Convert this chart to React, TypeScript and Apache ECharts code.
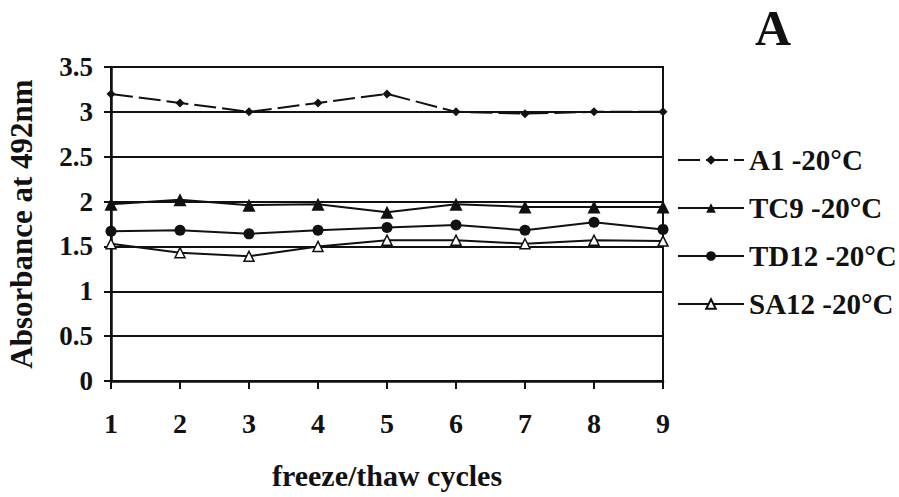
import React, { useEffect, useRef } from "react";
import * as echarts from "echarts";

const cycles = [1, 2, 3, 4, 5, 6, 7, 8, 9];
const a1 = [3.2, 3.1, 3.0, 3.1, 3.2, 3.0, 2.98, 3.0, 3.0];
const tc9 = [1.97, 2.02, 1.96, 1.97, 1.88, 1.97, 1.94, 1.94, 1.94];
const td12 = [1.67, 1.68, 1.64, 1.68, 1.71, 1.74, 1.68, 1.77, 1.69];
const sa12 = [1.53, 1.43, 1.39, 1.5, 1.57, 1.57, 1.53, 1.57, 1.56];
const seriesNames = ["A1 -20°C", "TC9 -20°C", "TD12 -20°C", "SA12 -20°C"];

const FONT = "'Liberation Serif', 'Times New Roman', serif";
const INK = "#111";

export default function App() {
  const ref = useRef<HTMLDivElement>(null);
  useEffect(() => {
    if (!ref.current) return;
    const chart = echarts.init(ref.current, undefined, { renderer: "svg" });
    const pairs = (vals: number[]) => cycles.map((c, i) => [c, vals[i]]);
    chart.setOption({
      animation: false,
      backgroundColor: "#fff",
      textStyle: { fontFamily: FONT },
      grid: {
        left: 111,
        right: 236,
        top: 67,
        bottom: 116,
        outerBoundsMode: "none",
        containLabel: false,
        show: true,
        borderColor: INK,
        borderWidth: 2,
        backgroundColor: "transparent",
      },
      graphic: [
        {
          type: "text",
          x: 773,
          y: 28,
          style: {
            text: "A",
            font: `bold 50px ${FONT}`,
            fill: INK,
            align: "center",
            verticalAlign: "middle",
            lineHeight: 44,
          },
        },
      ],
      legend: {
        orient: "vertical",
        left: 672,
        top: 140,
        itemWidth: 66,
        itemHeight: 12,
        itemGap: 18,
        data: seriesNames,
        textStyle: {
          fontFamily: FONT,
          fontWeight: "bold",
          fontSize: 29,
          color: INK,
          lineHeight: 30,
        },
      },
      xAxis: {
        type: "value",
        min: 1,
        max: 9,
        interval: 1,
        name: "freeze/thaw cycles",
        nameLocation: "middle",
        nameGap: 79,
        nameTextStyle: { fontFamily: FONT, fontWeight: "bold", fontSize: 30, color: INK },
        axisLine: { lineStyle: { color: INK, width: 2.5 } },
        axisTick: { show: true, length: 8, lineStyle: { color: INK, width: 2 } },
        axisLabel: { fontFamily: FONT, fontWeight: "bold", fontSize: 28, color: INK, margin: 28 },
        splitLine: { show: false },
      },
      yAxis: {
        type: "value",
        min: 0,
        max: 3.5,
        interval: 0.5,
        name: "Absorbance at 492nm",
        nameLocation: "middle",
        nameGap: 74,
        nameTextStyle: { fontFamily: FONT, fontWeight: "bold", fontSize: 31, color: INK },
        axisLine: { show: true, lineStyle: { color: INK, width: 2.5 } },
        axisTick: { show: true, length: 7, lineStyle: { color: INK, width: 2 } },
        axisLabel: { fontFamily: FONT, fontWeight: "bold", fontSize: 27, color: INK, margin: 18 },
        splitLine: { show: true, lineStyle: { color: INK, width: 2 } },
      },
      series: [
        {
          name: seriesNames[0],
          type: "line",
          data: pairs(a1),
          symbol: "diamond",
          symbolSize: 9,
          itemStyle: { color: INK },
          lineStyle: { color: INK, width: 2, type: [22, 6] },
        },
        {
          name: seriesNames[1],
          type: "line",
          data: pairs(tc9),
          symbol: "triangle",
          symbolSize: 13,
          itemStyle: { color: INK },
          lineStyle: { color: INK, width: 2 },
        },
        {
          name: seriesNames[2],
          type: "line",
          data: pairs(td12),
          symbol: "circle",
          symbolSize: 11,
          itemStyle: { color: INK },
          lineStyle: { color: INK, width: 2 },
        },
        {
          name: seriesNames[3],
          type: "line",
          data: pairs(sa12),
          symbol: "triangle",
          symbolSize: 10,
          itemStyle: { color: "#fff", borderColor: INK, borderWidth: 1.5 },
          lineStyle: { color: INK, width: 2 },
        },
      ],
    });
    return () => chart.dispose();
  }, []);
  return (
    <div
      ref={ref}
      style={{ position: "fixed", left: 0, top: 0, width: 899, height: 497 }}
    />
  );
}
